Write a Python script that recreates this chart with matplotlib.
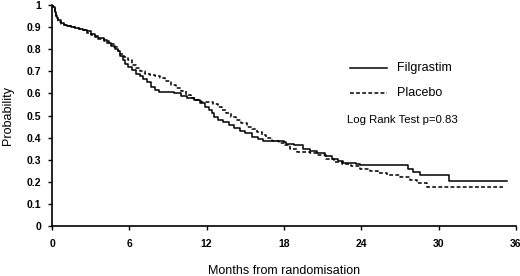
import matplotlib
matplotlib.use("Agg")
import matplotlib.pyplot as plt
from matplotlib.ticker import FuncFormatter

# Kaplan-Meier estimates (months, probability)
filg_t = [0, 0.1, 0.2, 0.3, 0.4, 0.5, 0.7, 0.9, 1.2, 1.5, 1.8, 2.1, 2.4, 2.7, 3.0,
          3.3, 3.6, 4.0, 4.3, 4.6, 4.9, 5.1, 5.3, 5.5, 5.7, 5.9, 6.2, 6.5, 6.8, 7.1,
          7.4, 7.7, 8.0, 8.3, 9.5, 10.0, 10.5, 11.0, 11.5, 11.9, 12.2, 12.4, 12.6,
          12.9, 13.3, 13.7, 14.1, 14.6, 15.0, 15.5, 16.0, 16.4, 18.0, 18.2, 18.8,
          19.5, 20.0, 20.6, 21.2, 21.7, 22.2, 22.6, 23.6, 23.9, 27.6, 28.0, 28.6,
          30.8, 35.3]
filg_s = [1.0, 0.99, 0.97, 0.95, 0.94, 0.93, 0.92, 0.91, 0.905, 0.90, 0.895, 0.89,
          0.885, 0.88, 0.87, 0.86, 0.85, 0.84, 0.83, 0.815, 0.80, 0.79, 0.77, 0.75,
          0.735, 0.72, 0.705, 0.69, 0.68, 0.665, 0.65, 0.63, 0.615, 0.605, 0.60,
          0.59, 0.58, 0.57, 0.555, 0.54, 0.525, 0.51, 0.495, 0.48, 0.47, 0.455,
          0.445, 0.43, 0.42, 0.405, 0.395, 0.385, 0.38, 0.37, 0.365, 0.35, 0.34,
          0.33, 0.315, 0.305, 0.295, 0.285, 0.28, 0.275, 0.26, 0.245, 0.23, 0.205,
          0.205]

plac_t = [0, 0.1, 0.2, 0.3, 0.4, 0.5, 0.7, 0.9, 1.2, 1.5, 1.8, 2.1, 2.4, 2.7, 3.0,
          3.3, 3.6, 4.0, 4.4, 4.8, 5.1, 5.3, 5.6, 5.9, 6.2, 6.5, 6.8, 7.2, 7.6, 8.0,
          8.4, 8.8, 9.2, 9.6, 10.0, 10.4, 10.8, 11.2, 11.6, 12.5, 12.9, 13.2, 13.5,
          13.9, 14.3, 14.7, 15.1, 15.5, 15.9, 16.3, 16.6, 17.1, 17.6, 18.1, 18.5,
          19.0, 20.0, 20.6, 21.3, 21.9, 22.5, 23.2, 23.9, 24.7, 25.3, 26.0, 27.0,
          27.8, 28.3, 29.1, 35.0]
plac_s = [1.0, 0.99, 0.97, 0.95, 0.94, 0.925, 0.915, 0.91, 0.905, 0.90, 0.895,
          0.89, 0.885, 0.875, 0.865, 0.855, 0.845, 0.835, 0.825, 0.81, 0.79, 0.78,
          0.765, 0.75, 0.73, 0.715, 0.70, 0.69, 0.685, 0.68, 0.67, 0.655, 0.64,
          0.625, 0.61, 0.595, 0.58, 0.57, 0.56, 0.55, 0.54, 0.525, 0.51, 0.495,
          0.48, 0.465, 0.45, 0.44, 0.425, 0.41, 0.40, 0.385, 0.375, 0.365, 0.35,
          0.335, 0.33, 0.32, 0.305, 0.29, 0.28, 0.27, 0.26, 0.25, 0.24, 0.23, 0.22,
          0.21, 0.195, 0.175, 0.175]

x_ticks = [0, 6, 12, 18, 24, 30, 36]
y_ticks = [0, 0.1, 0.2, 0.3, 0.4, 0.5, 0.6, 0.7, 0.8, 0.9, 1]

plt.rcParams['font.family'] = ['Liberation Sans', 'DejaVu Sans']

fig = plt.figure(figsize=(5.2, 2.76), dpi=100)
ax = fig.add_axes([0.1, 0.181, 0.892, 0.801])

dash = (0, (2.5, 1.5))
ax.step(filg_t, filg_s, where="post", color="black", lw=1.1)
ax.step(plac_t, plac_s, where="post", color="black", lw=1.1, linestyle=dash)

ax.set_xlim(0, 36)
ax.set_ylim(0, 1)
ax.set_xticks(x_ticks)
ax.set_yticks(y_ticks)
ax.yaxis.set_major_formatter(FuncFormatter(lambda v, p: "%g" % v))
ax.tick_params(labelsize=7.5, length=3, width=1, pad=6)
ax.tick_params(axis="y", pad=5)
for lab in ax.get_xticklabels() + ax.get_yticklabels():
  lab.set_fontweight("bold")
ax.spines["top"].set_visible(False)
ax.spines["right"].set_visible(False)
ax.spines["left"].set_linewidth(1.2)
ax.spines["bottom"].set_linewidth(1.2)

ax.set_xlabel("Months from randomisation", fontsize=9, labelpad=12)
ax.set_ylabel("Probability", fontsize=9, labelpad=9)

# legend drawn by hand, as in the original
ax.plot([23.1, 26.0], [0.715, 0.715], color="black", lw=1.1)
ax.plot([23.1, 26.0], [0.60, 0.60], color="black", lw=1.1, linestyle=dash)
ax.text(26.8, 0.715, "Filgrastim", fontsize=9, va="center")
ax.text(26.8, 0.60, "Placebo", fontsize=9, va="center")
ax.text(22.9, 0.478, "Log Rank Test p=0.83", fontsize=8.2, va="center")

plt.savefig("out.png", dpi=100)
